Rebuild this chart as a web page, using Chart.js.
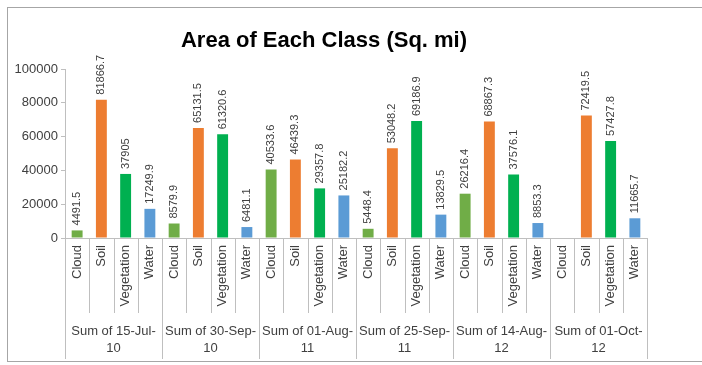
<!DOCTYPE html>
<html>
<head>
<meta charset="utf-8">
<title>Area of Each Class</title>
<script src="https://cdn.jsdelivr.net/npm/chart.js@4.4.1/dist/chart.umd.min.js"></script>
<style>
  html, body { margin: 0; padding: 0; background: #ffffff; }
  #chart { display: block; }
</style>
</head>
<body>
<canvas id="chart" width="702" height="365"></canvas>
<script>
"use strict";
// image dates (each group on the x axis) and the four land classes
const dates = ['15-Jul-10', '30-Sep-10', '01-Aug-11', '25-Sep-11', '14-Aug-12', '01-Oct-12'];
const classes = ['Cloud', 'Soil', 'Vegetation', 'Water'];

// area per class in sq. mi, one value per date
const cloud = [4491.5, 8579.9, 40533.6, 5448.4, 26216.4, null];
const soil = [81866.7, 65131.5, 46439.3, 53048.2, 68867.3, 72419.5];
const vegetation = [37905, 61320.6, 29357.8, 69186.9, 37576.1, 57427.8];
const water = [17249.9, 6481.1, 25182.2, 13829.5, 8853.3, 11665.7];

const yTicks = [0, 20000, 40000, 60000, 80000, 100000];

const classColors = ['#70ad47', '#ed7d31', '#00b050', '#5b9bd5'];
const FONT = "'Liberation Sans', Arial, sans-serif";
const TEXT = '#404040';
const LINE = '#bfbfbf';

(() => {
    const series = [cloud, soil, vegetation, water];
    const labels = [];
    const values = [];
    const colors = [];
    dates.forEach((d, di) => {
        classes.forEach((c, ci) => {
            labels.push(c);
            values.push(series[ci][di]);
            colors.push(classColors[ci]);
        });
    });
    // "Sum of 15-Jul-" / "10", wrapped the way the group axis shows it
    const groupLabels = dates.map((d) => ['Sum of ' + d.slice(0, -2), d.slice(-2)]);

    const frame = {
        id: 'frame',
        beforeDraw(chart) {
            const ctx = chart.ctx;
            ctx.save();
            ctx.fillStyle = '#ffffff';
            ctx.fillRect(0, 0, chart.width, chart.height);
            ctx.strokeStyle = '#a6a6a6';
            ctx.lineWidth = 1;
            ctx.strokeRect(7.5, 7.5, chart.width, 354);
            ctx.restore();
        }
    };

    const title = {
        id: 'chartTitle',
        afterDraw(chart) {
            const ctx = chart.ctx;
            ctx.save();
            ctx.font = 'bold 22px ' + FONT;
            ctx.fillStyle = '#000000';
            ctx.textAlign = 'center';
            ctx.textBaseline = 'alphabetic';
            ctx.fillText('Area of Each Class (Sq. mi)', 324, 47);
            ctx.restore();
        }
    };

    // value written above each bar, rotated to read upwards
    const barValues = {
        id: 'barValues',
        afterDatasetsDraw(chart) {
            const ctx = chart.ctx;
            const meta = chart.getDatasetMeta(0);
            const data = chart.data.datasets[0].data;
            ctx.save();
            ctx.font = '11px ' + FONT;
            ctx.fillStyle = TEXT;
            ctx.textAlign = 'left';
            ctx.textBaseline = 'middle';
            meta.data.forEach((bar, i) => {
                if (data[i] === null) return;
                ctx.save();
                ctx.translate(bar.x, bar.y - 5);
                ctx.rotate(-Math.PI / 2);
                ctx.fillText(String(data[i]), 0, 0);
                ctx.restore();
            });
            ctx.restore();
        }
    };

    // separators between categories, longer ones between date groups
    const dividers = {
        id: 'dividers',
        afterDraw(chart) {
            const x = chart.scales.x;
            const x2 = chart.scales.x2;
            const half = (x.getPixelForValue(1) - x.getPixelForValue(0)) / 2;
            const ctx = chart.ctx;
            ctx.save();
            ctx.strokeStyle = LINE;
            ctx.lineWidth = 1;
            for (let i = 0; i <= labels.length; i++) {
                const px = Math.round(x.getPixelForValue(i) - half) + 0.5;
                const end = i % classes.length === 0 ? x2.bottom : x.bottom;
                ctx.beginPath();
                ctx.moveTo(px, chart.chartArea.bottom);
                ctx.lineTo(px, end);
                ctx.stroke();
            }
            ctx.restore();
        }
    };

    new Chart(document.querySelector('#chart'), {
        type: 'bar',
        data: {
            labels,
            datasets: [{
                data: values,
                backgroundColor: colors,
                barPercentage: 0.45,
                categoryPercentage: 1
            }]
        },
        options: {
            responsive: false,
            devicePixelRatio: 1,
            animation: false,
            layout: { padding: { top: 69, left: 0, right: 55, bottom: 6 } },
            plugins: {
                legend: { display: false },
                tooltip: { enabled: false },
                title: { display: false }
            },
            scales: {
                x: {
                    weight: 0,
                    grid: { display: false, drawTicks: false },
                    border: { display: true, color: LINE },
                    ticks: {
                        autoSkip: false,
                        minRotation: 90,
                        maxRotation: 90,
                        padding: 7,
                        color: TEXT,
                        font: { family: FONT, size: 13 }
                    },
                    afterFit: (s) => { s.height = 75; }
                },
                x2: {
                    type: 'category',
                    position: 'bottom',
                    weight: 1,
                    labels: groupLabels,
                    offset: true,
                    grid: { display: false, drawTicks: false },
                    border: { display: false },
                    ticks: {
                        autoSkip: false,
                        maxRotation: 0,
                        padding: 10,
                        color: TEXT,
                        font: { family: FONT, size: 13, lineHeight: 1.3 }
                    },
                    afterFit: (s) => { s.height = 46; }
                },
                y: {
                    min: 0,
                    max: 100000,
                    afterBuildTicks: (s) => { s.ticks = yTicks.map((v) => ({ value: v })); },
                    grid: { drawOnChartArea: false, tickLength: 4, color: LINE },
                    border: { display: true, color: LINE },
                    ticks: {
                        padding: 3,
                        color: TEXT,
                        font: { family: FONT, size: 13 },
                        callback: (v) => String(v)
                    },
                    afterFit: (s) => { s.width = 65; }
                }
            }
        },
        plugins: [frame, dividers, barValues, title]
    });
})();
</script>
</body>
</html>
